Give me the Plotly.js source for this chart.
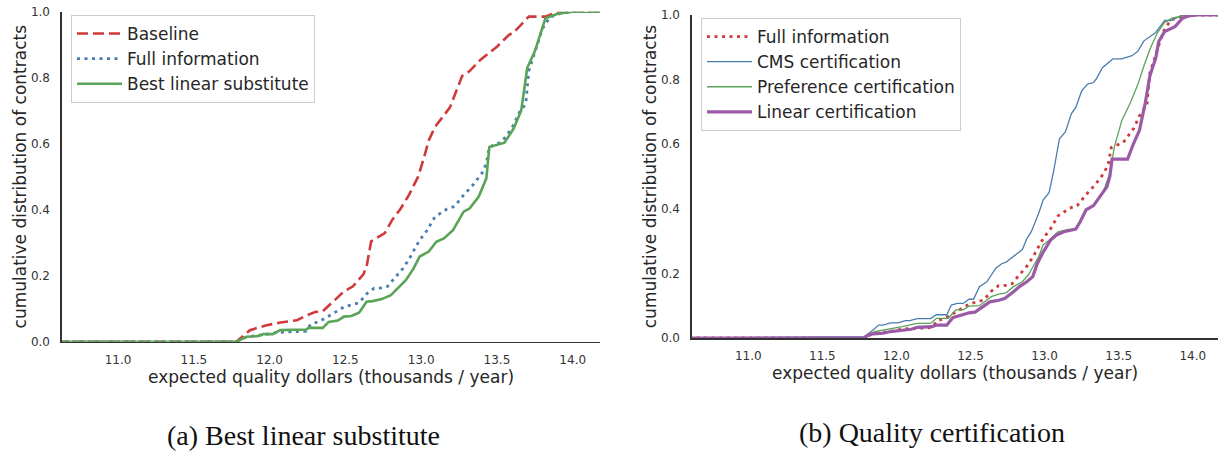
<!DOCTYPE html>
<html>
<head>
<meta charset="utf-8">
<script src="https://cdn.plot.ly/plotly-3.0.1.min.js"></script>
<style>html,body{margin:0;padding:0;background:#fff;}#chart{width:1225px;height:453px;}</style>
</head>
<body>
<div id="chart"></div>
<script>
// ---- data ----
const xTickVals = [11.0, 11.5, 12.0, 12.5, 13.0, 13.5, 14.0];
const xTickText = ["11.0", "11.5", "12.0", "12.5", "13.0", "13.5", "14.0"];
const yTickVals = [0.0, 0.2, 0.4, 0.6, 0.8, 1.0];
const yTickText = ["0.0", "0.2", "0.4", "0.6", "0.8", "1.0"];

const seriesNamesA = ["Baseline", "Full information", "Best linear substitute"];
const seriesNamesB = ["Full information", "CMS certification", "Preference certification", "Linear certification"];
const captionA = "(a) Best linear substitute";
const captionB = "(b) Quality certification";
const xTitle = "expected quality dollars (thousands / year)";
const yTitle = "cumulative distribution of contracts";

const baselineX = [10.5, 11.78, 11.87, 11.98, 12.07, 12.18, 12.24, 12.30, 12.35, 12.42, 12.49, 12.55, 12.62, 12.64, 12.67, 12.73, 12.76, 12.81, 12.86, 12.92, 12.98, 13.02, 13.05, 13.09, 13.19, 13.27, 13.32, 13.39, 13.50, 13.58, 13.61, 13.71, 13.82, 13.90, 14.2];
const baselineY = [0, 0, 0.035, 0.05, 0.058, 0.065, 0.079, 0.09, 0.092, 0.122, 0.152, 0.168, 0.205, 0.228, 0.304, 0.321, 0.329, 0.37, 0.40, 0.445, 0.50, 0.56, 0.61, 0.65, 0.71, 0.805, 0.82, 0.854, 0.894, 0.93, 0.937, 0.985, 0.985, 1.0, 1.0];

const fullInfoX = [10.5, 11.78, 11.85, 11.95, 12.05, 12.14, 12.24, 12.27, 12.33, 12.38, 12.43, 12.49, 12.55, 12.59, 12.64, 12.69, 12.74, 12.78, 12.81, 12.85, 12.88, 12.92, 12.95, 12.98, 13.01, 13.04, 13.09, 13.17, 13.22, 13.28, 13.34, 13.40, 13.43, 13.45, 13.53, 13.60, 13.65, 13.69, 13.71, 13.75, 13.80, 13.85, 13.92, 14.0, 14.2];
const fullInfoY = [0, 0, 0.015, 0.02, 0.028, 0.03, 0.032, 0.052, 0.062, 0.075, 0.088, 0.105, 0.113, 0.118, 0.145, 0.162, 0.163, 0.168, 0.185, 0.205, 0.222, 0.25, 0.275, 0.30, 0.32, 0.338, 0.378, 0.402, 0.41, 0.444, 0.474, 0.51, 0.54, 0.59, 0.605, 0.648, 0.697, 0.72, 0.82, 0.874, 0.948, 0.984, 0.995, 1.0, 1.0];

const bestLinearX = [10.5, 11.78, 11.85, 11.92, 11.96, 12.02, 12.07, 12.24, 12.26, 12.35, 12.39, 12.45, 12.49, 12.54, 12.59, 12.64, 12.68, 12.74, 12.80, 12.86, 12.90, 12.95, 12.99, 13.05, 13.10, 13.15, 13.21, 13.28, 13.32, 13.38, 13.43, 13.45, 13.55, 13.61, 13.66, 13.70, 13.75, 13.82, 13.91, 14.0, 14.2];
const bestLinearY = [0, 0, 0.015, 0.017, 0.023, 0.023, 0.035, 0.037, 0.042, 0.042, 0.06, 0.064, 0.076, 0.078, 0.088, 0.121, 0.123, 0.129, 0.141, 0.167, 0.187, 0.222, 0.258, 0.273, 0.303, 0.313, 0.338, 0.394, 0.404, 0.44, 0.495, 0.59, 0.603, 0.646, 0.70, 0.83, 0.88, 0.98, 0.995, 1.0, 1.0];

const cmsX = [10.5, 11.78, 11.83, 11.88, 11.91, 11.96, 12.01, 12.06, 12.09, 12.14, 12.23, 12.27, 12.34, 12.37, 12.41, 12.45, 12.49, 12.52, 12.56, 12.61, 12.67, 12.71, 12.74, 12.85, 12.88, 12.91, 12.96, 12.99, 13.03, 13.06, 13.10, 13.14, 13.18, 13.21, 13.25, 13.29, 13.33, 13.35, 13.39, 13.43, 13.46, 13.52, 13.59, 13.63, 13.67, 13.75, 13.81, 13.85, 13.92, 14.0, 14.2];
const cmsY = [0, 0.004, 0.02, 0.04, 0.04, 0.047, 0.047, 0.054, 0.054, 0.06, 0.06, 0.072, 0.072, 0.102, 0.107, 0.107, 0.12, 0.12, 0.159, 0.174, 0.216, 0.23, 0.235, 0.274, 0.308, 0.329, 0.386, 0.427, 0.45, 0.515, 0.617, 0.638, 0.694, 0.714, 0.765, 0.786, 0.791, 0.803, 0.837, 0.852, 0.864, 0.864, 0.874, 0.888, 0.92, 0.946, 0.983, 0.983, 0.997, 1.0, 1.0];

const prefX = [10.5, 11.78, 11.85, 11.95, 12.04, 12.14, 12.23, 12.27, 12.35, 12.40, 12.45, 12.49, 12.56, 12.64, 12.69, 12.74, 12.79, 12.85, 12.89, 12.92, 12.96, 12.99, 13.03, 13.09, 13.16, 13.21, 13.24, 13.28, 13.33, 13.40, 13.44, 13.47, 13.52, 13.58, 13.63, 13.67, 13.71, 13.76, 13.81, 13.86, 13.94, 14.02, 14.2];
const prefY = [0, 0, 0.02, 0.027, 0.035, 0.045, 0.045, 0.061, 0.061, 0.087, 0.087, 0.099, 0.1, 0.128, 0.136, 0.14, 0.159, 0.174, 0.195, 0.22, 0.252, 0.288, 0.303, 0.329, 0.336, 0.337, 0.36, 0.397, 0.412, 0.458, 0.51, 0.59, 0.673, 0.73, 0.786, 0.842, 0.893, 0.944, 0.977, 0.99, 0.998, 1.0, 1.0];

const linearCertX = [10.5, 11.78, 11.82, 11.91, 11.96, 12.05, 12.10, 12.14, 12.24, 12.27, 12.34, 12.38, 12.44, 12.49, 12.53, 12.58, 12.63, 12.69, 12.73, 12.79, 12.83, 12.88, 12.92, 12.95, 12.99, 13.04, 13.08, 13.13, 13.21, 13.24, 13.28, 13.33, 13.38, 13.42, 13.44, 13.455, 13.56, 13.60, 13.64, 13.68, 13.71, 13.75, 13.77, 13.81, 13.88, 13.93, 13.97, 14.03, 14.2];
const linearCertY = [0, 0, 0.012, 0.015, 0.02, 0.025, 0.027, 0.033, 0.035, 0.04, 0.04, 0.063, 0.07, 0.078, 0.08, 0.097, 0.112, 0.117, 0.122, 0.143, 0.159, 0.174, 0.19, 0.23, 0.266, 0.303, 0.319, 0.329, 0.337, 0.36, 0.397, 0.41, 0.443, 0.468, 0.5, 0.554, 0.554, 0.602, 0.643, 0.73, 0.811, 0.867, 0.918, 0.949, 0.964, 0.99, 0.997, 1.0, 1.0];

// ---- styles ----
const RED = "#cf3a3c", BLUE = "#4a7db0", GREEN = "#5aa457", PURPLE = "#9a5aa6";
const W = 1225, H = 453;
const FONT = "DejaVu Sans, sans-serif";
const TXT = "#262626";

const traces = [
  {x: baselineX, y: baselineY, name: seriesNamesA[0], xaxis: "x", yaxis: "y", legend: "legend",
   mode: "lines", line: {color: RED, width: 2.6, dash: "11px,5px"}},
  {x: fullInfoX, y: fullInfoY, name: seriesNamesA[1], xaxis: "x", yaxis: "y", legend: "legend",
   mode: "lines", line: {color: BLUE, width: 2.8, dash: "3px,4.5px"}},
  {x: bestLinearX, y: bestLinearY, name: seriesNamesA[2], xaxis: "x", yaxis: "y", legend: "legend",
   mode: "lines", line: {color: GREEN, width: 2.6}},
  {x: fullInfoX, y: fullInfoY, name: seriesNamesB[0], xaxis: "x2", yaxis: "y2", legend: "legend2",
   mode: "lines", line: {color: RED, width: 2.8, dash: "3px,4.5px"}},
  {x: cmsX, y: cmsY, name: seriesNamesB[1], xaxis: "x2", yaxis: "y2", legend: "legend2",
   mode: "lines", line: {color: BLUE, width: 1.3}},
  {x: prefX, y: prefY, name: seriesNamesB[2], xaxis: "x2", yaxis: "y2", legend: "legend2",
   mode: "lines", line: {color: GREEN, width: 1.3}},
  {x: linearCertX, y: linearCertY, name: seriesNamesB[3], xaxis: "x2", yaxis: "y2", legend: "legend2",
   mode: "lines", line: {color: PURPLE, width: 3.2}}
];

function xAxis(domainPx, range, anchor) {
  return {
    domain: [domainPx[0] / W, domainPx[1] / W], range: range, anchor: anchor,
    tickvals: xTickVals, ticktext: xTickText, ticks: "", ticklabelstandoff: 6,
    showgrid: false, zeroline: false, showline: true, linecolor: "#333", linewidth: 1.6,
    tickfont: {family: FONT, size: 12, color: "#333"},
    title: {text: xTitle, standoff: 0, font: {family: FONT, size: 17, color: TXT}}
  };
}
function yAxis(domainPx, anchor) {
  return {
    domain: [1 - domainPx[1] / H, 1 - domainPx[0] / H], range: [0, 1], anchor: anchor,
    tickvals: yTickVals, ticktext: yTickText, ticks: "", ticklabelstandoff: 8,
    showgrid: false, zeroline: false, showline: true, linecolor: "#333", linewidth: 1.6,
    tickfont: {family: FONT, size: 12, color: "#333"},
    title: {text: yTitle, standoff: 0, font: {family: FONT, size: 17, color: TXT}}
  };
}

const legendStyle = {
  xanchor: "left", yanchor: "top", bgcolor: "#fff", bordercolor: "#cccccc", borderwidth: 1,
  itemwidth: 45,
  font: {family: FONT, size: 17, color: TXT}
};

const layout = {
  width: W, height: H,
  margin: {l: 0, r: 0, t: 0, b: 0},
  paper_bgcolor: "#fff", plot_bgcolor: "#fff",
  font: {family: FONT, color: TXT},
  showlegend: true,
  xaxis: xAxis([62, 600], [10.63, 14.18], "y"),
  yaxis: yAxis([11.7, 341.7], "x"),
  xaxis2: xAxis([692, 1218], [10.62, 14.17], "y2"),
  yaxis2: yAxis([15, 338], "x2"),
  legend: Object.assign({x: 71 / W, y: 1 - 15 / H}, legendStyle),
  legend2: Object.assign({x: 701 / W, y: 1 - 18 / H}, legendStyle),
  annotations: [
    {text: captionA, xref: "paper", yref: "paper", x: 303 / W, y: 1 - 435 / H, xanchor: "center", yanchor: "middle",
     showarrow: false, font: {family: "Liberation Serif, serif", size: 28, color: "#111"}},
    {text: captionB, xref: "paper", yref: "paper", x: 932 / W, y: 1 - 432 / H, xanchor: "center", yanchor: "middle",
     showarrow: false, font: {family: "Liberation Serif, serif", size: 28, color: "#111"}}
  ]
};

Plotly.newPlot("chart", traces, layout, {staticPlot: true, displayModeBar: false});
</script>
</body>
</html>
